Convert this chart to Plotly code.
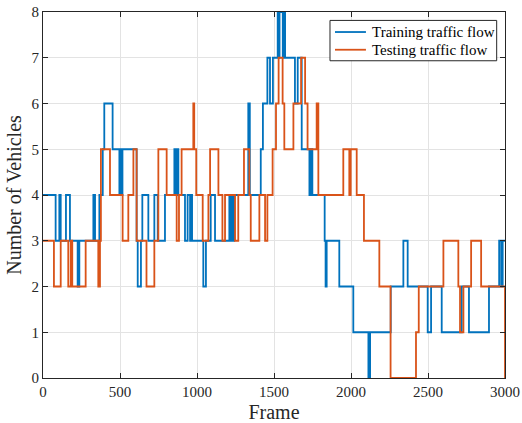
import plotly.graph_objects as go

# Step-change points: frame index where the vehicle count switches, and the new count
train_frames = [0, 82, 106, 115, 149, 175, 225, 236, 327, 338, 366, 388, 398, 452,
                496, 504, 510, 516, 608, 615, 636, 645, 684, 723, 745, 792, 853, 862,
                870, 879, 922, 939, 955, 962, 968, 1041, 1058, 1089, 1117, 1210, 1218,
                1226, 1234, 1242, 1333, 1343, 1414, 1428, 1457, 1474, 1493, 1524, 1530,
                1536, 1557, 1562, 1572, 1636, 1654, 1680, 1730, 1740, 1749, 1829, 1835,
                1842, 1924, 2015, 2113, 2124, 2258, 2340, 2368, 2498, 2520, 2589, 2719,
                2766, 2896, 2962, 2975, 2985, 3000]
train_counts = [4, 3, 4, 3, 4, 3, 2, 3, 4, 3, 4, 5, 6, 5,
                4, 5, 4, 5, 3, 2, 3, 4, 3, 4, 3, 4, 5, 4,
                5, 4, 3, 4, 3, 4, 3, 2, 3, 4, 3, 4, 3,
                4, 3, 4, 6, 4, 5, 6, 7, 6, 7, 8, 7,
                8, 7, 8, 7, 6, 7, 5, 4, 5, 4, 3, 2,
                3, 2, 1, 0, 1, 2, 3, 2, 1, 2, 1, 2,
                1, 2, 3, 2, 3, 3]

test_frames = [0, 71, 115, 164, 180, 190, 277, 359, 370, 376, 435, 517, 554, 587, 608,
               672, 723, 749, 803, 868, 883, 900, 976, 982, 995, 1037, 1074, 1085, 1139,
               1165, 1182, 1247, 1268, 1305, 1340, 1349, 1405, 1442, 1457, 1491, 1513,
               1530, 1556, 1567, 1626, 1676, 1702, 1718, 1777, 1788, 1950, 1989, 1998,
               2037, 2084, 2184, 2257, 2422, 2440, 2600, 2697, 2708, 2730, 2780, 2845,
               3000]
test_counts = [3, 2, 3, 2, 3, 2, 3, 2, 3, 5, 4, 3, 4, 5, 3,
               2, 3, 5, 4, 3, 4, 5, 6, 5, 4, 3, 4, 5, 4,
               3, 4, 3, 4, 5, 4, 3, 4, 3, 4, 5, 6,
               7, 6, 5, 6, 7, 6, 5, 6, 4, 5, 4, 5,
               4, 3, 2, 0, 1, 2, 3, 2, 1, 2, 3, 2,
               0]

series_names = ["Training traffic flow", "Testing traffic flow"]
series_colors = ["#0072BD", "#D95319"]

serif = "Liberation Serif"
axis_color = "#262626"
grid_color = "#E3E3E3"

fig = go.Figure()
for frames, counts, name, color in zip(
    [train_frames, test_frames], [train_counts, test_counts], series_names, series_colors
):
    fig.add_trace(go.Scatter(
        x=frames, y=counts, mode="lines", line_shape="hv",
        name=name, line=dict(color=color, width=1.8), showlegend=False,
    ))

axis_common = dict(
    showline=True, linecolor=axis_color, linewidth=1, mirror="allticks",
    ticks="inside", ticklen=5, tickwidth=1, tickcolor=axis_color,
    showgrid=True, gridcolor=grid_color, gridwidth=1, zeroline=False,
    tickfont=dict(family=serif, size=15, color=axis_color),
    automargin=False,
)

fig.update_xaxes(
    range=[0, 3000], tickmode="linear", tick0=0, dtick=500,
    title=dict(text="Frame", font=dict(family=serif, size=20, color=axis_color), standoff=7),
    **axis_common,
)
fig.update_yaxes(
    range=[0, 8], tickmode="linear", tick0=0, dtick=1,
    title=dict(text="Number of Vehicles", font=dict(family=serif, size=20, color=axis_color), standoff=4),
    **axis_common,
)

# Compact boxed legend in the upper-right corner of the axes
box = dict(x0=0.6212, x1=0.982, y0=0.8668, y1=0.977)
row_y = [0.9453, 0.8969]
sample_x = (0.632, 0.699)
text_x = 0.7078

shapes = [dict(type="rect", xref="paper", yref="paper", layer="above",
               line=dict(color=axis_color, width=1), fillcolor="white", **box)]
annotations = []
for name, color, yy in zip(series_names, series_colors, row_y):
    shapes.append(dict(type="line", xref="paper", yref="paper", layer="above",
                       x0=sample_x[0], x1=sample_x[1], y0=yy, y1=yy,
                       line=dict(color=color, width=1.8)))
    annotations.append(dict(xref="paper", yref="paper", x=text_x, y=yy,
                            xanchor="left", yanchor="middle", showarrow=False,
                            text=name, font=dict(family=serif, size=15, color="#000000")))

fig.update_layout(
    width=522, height=423,
    margin=dict(l=43, r=17, t=12, b=45),
    paper_bgcolor="white", plot_bgcolor="white",
    font=dict(family=serif, color=axis_color),
    showlegend=False,
    shapes=shapes,
    annotations=annotations,
)

fig.write_html("out.html")
